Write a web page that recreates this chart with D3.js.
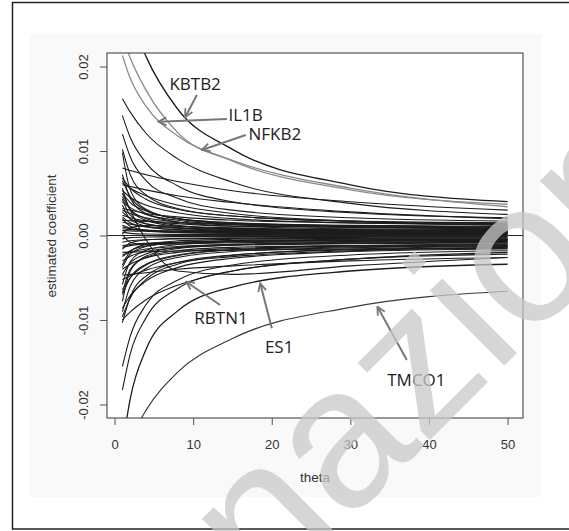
<!DOCTYPE html>
<html><head><meta charset="utf-8">
<script src="https://cdn.jsdelivr.net/npm/d3@7/dist/d3.min.js"></script>
<style>body{margin:0;background:#fff}svg{display:block}</style>
</head><body><svg id="c" width="569" height="531"></svg>
<script>
// theta values at which each path is read (x)
const thetas = [1, 2, 4, 8, 15, 30, 50];
const xTicks = [0, 10, 20, 30, 40, 50];
const yTicks = [-0.02, -0.01, 0, 0.01, 0.02];
const yTickLabels = ["-0.02", "-0.01", "0.00", "0.01", "0.02"];
// estimated coefficients, in units of 1e-3, one value per theta
const kbtb2 = [30.0, 26.0, 21.2, 15.0, 10.2, 6.0, 4.0];
const il1b  = [21.3, 18.6, 15.3, 11.8, 8.9, 5.6, 3.4];
const nfkb2 = [23.6, 21.0, 17.2, 12.2, 8.8, 5.4, 3.7];
const rbtn1 = [-10.0, -9.05, -7.6, -5.9, -4.2, -2.8, -2.0];
const es1   = [-25.0, -19.3, -13.5, -8.95, -6.1, -4.2, -3.4];
const tmco1 = [-26.6, -24.2, -20.7, -16.2, -12.2, -8.5, -6.6];
const upperPaths = [
  [16.2, 14.6, 12.1, 9.1, 6.3, 3.8, 2.5],
  [14.2, 11.6, 8.6, 5.9, 4.0, 2.7, 2.1],
  [12.0, 9.3, 6.5, 4.4, 3.0, 2.1, 1.7],
  [10.2, 7.2, 4.8, 3.2, 2.3, 1.7, 1.5],
  [9.8, 5.4, 3.1, 2.0, 1.5, 1.2, 1.1],
  [8.0, 7.7, 7.2, 6.4, 5.3, 4.0, 3.0],
  [6.0, 5.8, 5.4, 4.7, 3.9, 2.8, 2.0],
  [6.8, 5.6, 4.3, 3.1, 2.3, 1.7, 1.4],
  [6.5, 4.6, 3.0, 2.0, 1.4, 1.05, 0.9],
  [6.2, 5.6, 4.7, 3.6, 2.6, 1.7, 1.2],
  [5.6, 3.05, 1.8, 1.1, 0.84, 0.67, 0.6],
  [5.0, 3.9, 2.9, 2.0, 1.5, 1.15, 1.0],
  [4.6, 3.1, 2.0, 1.2, 0.77, 0.51, 0.4],
  [4.0, 3.3, 2.5, 1.8, 1.3, 0.96, 0.8],
  [3.6, 1.9, 1.1, 0.65, 0.46, 0.35, 0.3],
  [3.2, 3.0, 2.6, 2.2, 1.8, 1.5, 1.3],
  [2.8, 2.0, 1.4, 0.94, 0.7, 0.56, 0.5],
  [2.4, 2.1, 1.7, 1.4, 1.1, 0.97, 0.9],
  [2.0, 1.1, 0.62, 0.39, 0.29, 0.23, 0.2],
  [1.6, 1.35, 1.07, 0.86, 0.73, 0.64, 0.6],
  [1.2, 0.84, 0.54, 0.35, 0.24, 0.18, 0.15],
  [0.8, 0.71, 0.61, 0.52, 0.46, 0.42, 0.4],
  [0.4, 0.25, 0.17, 0.13, 0.11, 0.1, 0.1],
  [1.8, 1.75, 1.67, 1.54, 1.37, 1.15, 1.0],
  [0.2, 0.9, 1.2, 1.1, 0.9, 0.7, 0.6],
  [7.2, 4.4, 2.6, 1.6, 1.1, 0.8, 0.7],
  [5.3, 4.5, 3.6, 2.7, 2.0, 1.5, 1.3],
  [4.3, 2.4, 1.4, 0.9, 0.6, 0.5, 0.45],
  [3.0, 2.6, 2.1, 1.6, 1.25, 1.0, 0.85],
  [2.2, 1.5, 1.0, 0.7, 0.55, 0.5, 0.45],
  [1.0, 0.8, 0.65, 0.5, 0.4, 0.32, 0.3],
  [0.6, 0.55, 0.5, 0.42, 0.35, 0.28, 0.25]
];
const lowerPaths = [
  [-18.3, -14.0, -9.75, -6.3, -4.2, -2.8, -2.2],
  [-15.5, -11.9, -8.2, -5.3, -3.5, -2.3, -1.8],
  [5.0, 3.0, -0.5, -4.2, -4.6, -3.6, -2.6],
  [-4.7, -4.6, -4.4, -4.0, -3.6, -3.0, -2.6],
  [-10.3, -7.25, -4.8, -3.2, -2.3, -1.7, -1.5],
  [-9.6, -7.4, -5.2, -3.4, -2.35, -1.6, -1.3],
  [-8.6, -7.1, -5.4, -3.8, -2.7, -1.9, -1.6],
  [-7.8, -4.2, -2.45, -1.55, -1.14, -0.9, -0.8],
  [-7.0, -5.0, -3.4, -2.3, -1.7, -1.35, -1.2],
  [-6.4, -5.0, -3.5, -2.4, -1.7, -1.2, -1.0],
  [-5.8, -3.1, -1.75, -1.07, -0.75, -0.57, -0.5],
  [-5.2, -4.75, -4.1, -3.2, -2.5, -1.8, -1.4],
  [-4.6, -3.25, -2.2, -1.4, -1.05, -0.8, -0.7],
  [-4.0, -3.4, -2.65, -2.0, -1.55, -1.25, -1.1],
  [-3.5, -1.9, -1.05, -0.64, -0.45, -0.34, -0.3],
  [-3.0, -2.45, -1.9, -1.45, -1.16, -0.98, -0.9],
  [-2.5, -1.8, -1.25, -0.88, -0.68, -0.55, -0.5],
  [-2.0, -1.97, -1.92, -1.84, -1.73, -1.6, -1.5],
  [-1.6, -0.89, -0.53, -0.35, -0.27, -0.22, -0.2],
  [-1.2, -1.07, -0.92, -0.79, -0.7, -0.63, -0.6],
  [-0.8, -0.63, -0.49, -0.4, -0.34, -0.31, -0.3],
  [-0.4, -0.25, -0.17, -0.13, -0.11, -0.1, -0.1],
  [0.1, -0.8, -1.1, -1.0, -0.85, -0.7, -0.6],
  [-6.8, -4.0, -2.6, -1.8, -1.4, -1.2, -1.1],
  [-3.8, -2.2, -1.3, -0.85, -0.6, -0.45, -0.4],
  [-2.3, -2.0, -1.6, -1.3, -1.05, -0.9, -0.8],
  [-1.4, -1.2, -1.0, -0.85, -0.7, -0.55, -0.5],
  [-9.0, -6.0, -3.9, -2.6, -1.9, -1.45, -1.25]
];
// annotation: gene, text (theta, coef), arrow tail (theta, coef), arrow tip (theta, coef)
const geneNames = ["KBTB2", "IL1B", "NFKB2", "RBTN1", "ES1", "TMCO1"];
const labelAt = [[10.25, 0.0180], [16.68, 0.01438], [20.39, 0.01210], [13.54, -0.00968], [20.94, -0.01308], [38.40, -0.01702]];
const arrowTail = [[10.47, 0.01663], [14.29, 0.01379], [16.70, 0.01189], [13.43, -0.00823], [20.01, -0.01098], [37.18, -0.01474]];
const arrowTip = [[8.98, 0.01399], [5.58, 0.01347], [11.11, 0.01012], [9.11, -0.00547], [18.52, -0.00566], [33.44, -0.00843]];
const xTitle = "theta", yTitle = "estimated coefficient";
const watermark = "nazione";

const svg = d3.select("#c");
const W = 569, H = 531;
const L = 107, R = 523, T = 53, B = 418;
const x = d3.scaleLinear().domain([-0.96, 51.96]).range([L, R]);
const y = d3.scaleLinear().domain([-0.0216, 0.0216]).range([B, T]);

svg.append("rect").attr("width", W).attr("height", H).attr("fill", "#fff");
svg.append("rect").attr("x", 29).attr("y", 34).attr("width", 512).attr("height", 463).attr("fill", "#f9f9f9");
svg.append("rect").attr("x", L).attr("y", T).attr("width", R - L).attr("height", B - T).attr("fill", "#fff");

svg.append("defs").append("clipPath").attr("id", "clip")
  .append("rect").attr("x", L).attr("y", T).attr("width", R - L).attr("height", B - T);

const line = d3.line().x((d, i) => x(thetas[i])).y(d => y(d / 1000)).curve(d3.curveMonotoneX);
const plot = svg.append("g").attr("clip-path", "url(#clip)");

function draw(arr, color, w) {
  plot.append("path").attr("d", line(arr)).attr("fill", "none").attr("stroke", color).attr("stroke-width", w);
}
upperPaths.forEach(p => draw(p, "#1c1c1c", 1.1));
lowerPaths.forEach(p => draw(p, "#1c1c1c", 1.1));
draw(rbtn1, "#1c1c1c", 1.1);
draw(es1, "#1c1c1c", 1.3);
draw(tmco1, "#3a3a3a", 1.2);
draw(kbtb2, "#1c1c1c", 1.3);
draw(il1b, "#8a8a8a", 1.3);
draw(nfkb2, "#8a8a8a", 1.3);
// horizontal reference line at 0
plot.append("line").attr("x1", L).attr("x2", R).attr("y1", y(0)).attr("y2", y(0)).attr("stroke", "#222").attr("stroke-width", 1);

// box
svg.append("rect").attr("x", L).attr("y", T).attr("width", R - L).attr("height", B - T)
  .attr("fill", "none").attr("stroke", "#444").attr("stroke-width", 1.1);

const tickFont = "'Liberation Sans', Arial, Helvetica, sans-serif";
const xa = svg.append("g").attr("transform", `translate(0,${B})`)
  .call(d3.axisBottom(x).tickValues(xTicks).tickSize(7).tickFormat(d3.format("d")));
xa.select(".domain").remove();
xa.selectAll("line").attr("stroke", "#555");
xa.selectAll("text").attr("dy", null).attr("y", 30.5).attr("font-family", tickFont).attr("font-size", 13).attr("fill", "#333");

const ya = svg.append("g").attr("transform", `translate(${L},0)`)
  .call(d3.axisLeft(y).tickValues(yTicks).tickSize(7).tickFormat((d, i) => yTickLabels[i]));
ya.select(".domain").remove();
ya.selectAll("line").attr("stroke", "#555");
ya.selectAll("text").attr("x", null).attr("dy", null)
  .attr("transform", "translate(-23.5,0) rotate(-90)")
  .attr("text-anchor", "middle").attr("dominant-baseline", "central")
  .attr("font-family", tickFont).attr("font-size", 13).attr("fill", "#333");

svg.append("text").attr("x", 315).attr("y", 477.5).attr("text-anchor", "middle").attr("dominant-baseline", "central")
  .attr("font-family", tickFont).attr("font-size", 13.5).attr("fill", "#333").text(xTitle);
svg.append("text").attr("transform", "translate(51,236) rotate(-90)").attr("text-anchor", "middle").attr("dominant-baseline", "central")
  .attr("font-family", tickFont).attr("font-size", 13.5).attr("fill", "#333").text(yTitle);

// annotations
const defs = svg.select("defs");
defs.append("marker").attr("id", "ah").attr("viewBox", "0 0 10 10").attr("refX", 9).attr("refY", 5)
  .attr("markerWidth", 5).attr("markerHeight", 5).attr("markerUnits", "strokeWidth").attr("orient", "auto")
  .append("path").attr("d", "M1,1 L9,5 L1,9").attr("fill", "none").attr("stroke", "#777").attr("stroke-width", 1.8);
geneNames.forEach((g, i) => {
  svg.append("line").attr("x1", x(arrowTail[i][0])).attr("y1", y(arrowTail[i][1]))
    .attr("x2", x(arrowTip[i][0])).attr("y2", y(arrowTip[i][1]))
    .attr("stroke", "#777").attr("stroke-width", 2).attr("marker-end", "url(#ah)");
  svg.append("text").attr("x", x(labelAt[i][0])).attr("y", y(labelAt[i][1]))
    .attr("text-anchor", "middle").attr("dominant-baseline", "central")
    .attr("font-family", "'Open Sans', 'Noto Sans', sans-serif").attr("font-size", 17).attr("fill", "#222").text(g);
});

// outer frame
svg.append("rect").attr("x", 12.5).attr("y", 2.5).attr("width", 562).attr("height", 526.5)
  .attr("fill", "none").attr("stroke", "#222").attr("stroke-width", 1.5);

// watermark
svg.append("text").attr("transform", "translate(267,603) rotate(-45)")
  .attr("font-family", tickFont).attr("font-size", 200).attr("fill", "#c8c8c8").attr("fill-opacity", 0.75)
  .text(watermark);
</script></body></html>
